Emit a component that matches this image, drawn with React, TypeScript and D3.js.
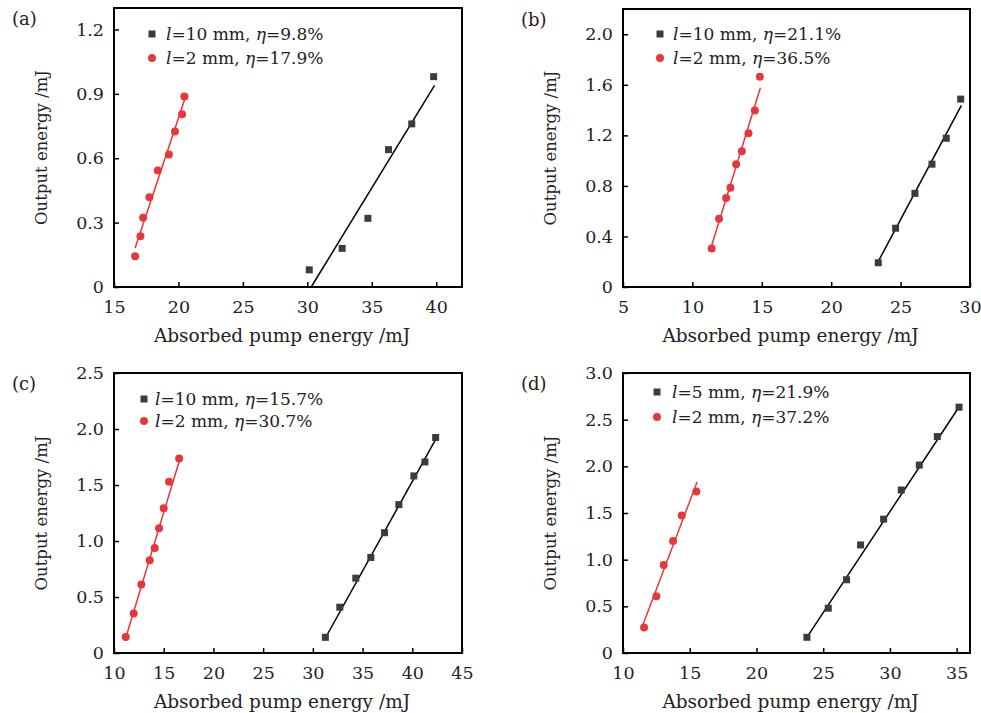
import React, { useEffect, useRef } from 'react';
import * as d3 from 'd3';

// (a)
const aBlackX = [30.15, 32.7, 34.7, 36.3, 38.1, 39.8];
const aBlackY = [0.08, 0.18, 0.32, 0.64, 0.76, 0.98];
const aRedX = [16.64, 17.05, 17.26, 17.75, 18.4, 19.26, 19.73, 20.28, 20.46];
const aRedY = [0.143, 0.236, 0.323, 0.418, 0.543, 0.617, 0.724, 0.805, 0.888];
const aBlackFit = [[30.3, 0], [39.87, 0.939]];
const aRedFit = [[16.64, 0.182], [20.5, 0.877]];
const aXTicks = [15, 20, 25, 30, 35, 40];
const aYTicks = [0, 0.3, 0.6, 0.9, 1.2];
const aLegend = [['10', '9.8'], ['2', '17.9']];

// (b)
const bBlackX = [23.39, 24.64, 26.03, 27.26, 28.29, 29.33];
const bBlackY = [0.192, 0.465, 0.741, 0.972, 1.177, 1.487];
const bRedX = [11.39, 11.92, 12.43, 12.74, 13.15, 13.56, 14.04, 14.5, 14.86];
const bRedY = [0.305, 0.541, 0.704, 0.786, 0.972, 1.075, 1.217, 1.396, 1.664];
const bBlackFit = [[23.39, 0.202], [29.38, 1.438]];
const bRedFit = [[11.35, 0.315], [14.9, 1.577]];
const bXTicks = [5, 10, 15, 20, 25, 30];
const bYTicks = [0, 0.4, 0.8, 1.2, 1.6, 2.0];
const bLegend = [['10', '21.1'], ['2', '36.5']];

// (c)
const cBlackX = [31.26, 32.71, 34.32, 35.83, 37.21, 38.65, 40.16, 41.27, 42.35];
const cBlackY = [0.14, 0.409, 0.668, 0.853, 1.074, 1.325, 1.581, 1.706, 1.924];
const cRedX = [11.18, 11.98, 12.75, 13.59, 14.1, 14.53, 15.0, 15.54, 16.55];
const cRedY = [0.143, 0.353, 0.612, 0.829, 0.937, 1.113, 1.292, 1.53, 1.736];
const cBlackFit = [[31.26, 0.134], [42.38, 1.912]];
const cRedFit = [[11.18, 0.134], [16.62, 1.73]];
const cXTicks = [10, 15, 20, 25, 30, 35, 40, 45];
const cYTicks = [0, 0.5, 1.0, 1.5, 2.0, 2.5];
const cLegend = [['10', '15.7'], ['2', '30.7']];

// (d)
const dBlackX = [23.78, 25.38, 26.75, 27.8, 29.53, 30.85, 32.2, 33.55, 35.18];
const dBlackY = [0.168, 0.48, 0.785, 1.158, 1.434, 1.746, 2.014, 2.319, 2.634];
const dRedX = [11.58, 12.5, 13.05, 13.75, 14.4, 15.5];
const dRedY = [0.272, 0.609, 0.943, 1.201, 1.473, 1.731];
const dBlackFit = [[23.8, 0.172], [35.25, 2.652]];
const dRedFit = [[11.45, 0.287], [15.55, 1.832]];
const dXTicks = [10, 15, 20, 25, 30, 35];
const dYTicks = [0, 0.5, 1.0, 1.5, 2.0, 2.5, 3.0];
const dLegend = [['5', '21.9'], ['2', '37.2']];

const FONT = '"DejaVu Serif", serif';
const RED = '#e8373a';
const GREY = '#3c3c3c';

const panels = [
  { tag: '(a)', box: [114, 462, 8, 287], xDom: [15, 42], yDom: [0, 1.3], xTicks: aXTicks, yTicks: aYTicks,
    bx: aBlackX, by: aBlackY, rx: aRedX, ry: aRedY, bFit: aBlackFit, rFit: aRedFit, legend: aLegend, leg: [38, 52, 26, 50] },
  { tag: '(b)', box: [623, 970, 9, 287], xDom: [5, 30], yDom: [0, 2.2], xTicks: bXTicks, yTicks: bYTicks,
    bx: bBlackX, by: bBlackY, rx: bRedX, ry: bRedY, bFit: bBlackFit, rFit: bRedFit, legend: bLegend, leg: [37, 50, 25, 49] },
  { tag: '(c)', box: [114, 462, 373, 653], xDom: [10, 45], yDom: [0, 2.5], xTicks: cXTicks, yTicks: cYTicks,
    bx: cBlackX, by: cBlackY, rx: cRedX, ry: cRedY, bFit: cBlackFit, rFit: cRedFit, legend: cLegend, leg: [30, 41, 26, 48] },
  { tag: '(d)', box: [623, 970, 373, 653], xDom: [10, 36], yDom: [0, 3.0], xTicks: dXTicks, yTicks: dYTicks,
    bx: dBlackX, by: dBlackY, rx: dRedX, ry: dRedY, bFit: dBlackFit, rFit: dRedFit, legend: dLegend, leg: [34, 49, 19, 44] },
];

const App = () => {
  const svgRef = useRef<SVGSVGElement>(null);

  useEffect(() => {
    const svg = d3.select(svgRef.current);
    svg.selectAll('*').remove();

    panels.forEach((p) => {
      const [left, right, top, bottom] = p.box;
      const x = d3.scaleLinear().domain(p.xDom).range([left, right]);
      const y = d3.scaleLinear().domain(p.yDom).range([bottom, top]);
      const g = svg.append('g').style('font-family', FONT);

      // panel tag
      g.append('text').attr('x', left - 102).attr('y', top + 17)
        .style('font-size', '18px').attr('fill', '#222').text(p.tag);

      // axes, ticks pointing inward
      const fmt = (d: number) => (d === 0 ? '0' : d.toFixed(1));
      const xAxis = g.append('g').attr('transform', `translate(0,${bottom})`)
        .call(d3.axisBottom(x).tickValues(p.xTicks).tickSize(-5).tickPadding(10).tickFormat((d) => String(d)));
      const yAxis = g.append('g').attr('transform', `translate(${left},0)`)
        .call(d3.axisLeft(y).tickValues(p.yTicks).tickSize(-5).tickPadding(10).tickFormat((d) => fmt(+d)));
      [xAxis, yAxis].forEach((a) => {
        a.select('.domain').remove();
        a.selectAll('line').attr('stroke', '#000').attr('stroke-width', 1.5);
        a.selectAll('text').style('font-size', '17.5px').style('font-family', FONT).attr('fill', '#222');
      });
      xAxis.selectAll('text').attr('dy', '0.9em');

      // frame
      g.append('rect').attr('x', left).attr('y', top).attr('width', right - left).attr('height', bottom - top)
        .attr('fill', 'none').attr('stroke', '#000').attr('stroke-width', 2);

      // axis titles
      g.append('text').attr('x', (left + right) / 2 - 6).attr('y', bottom + 55)
        .attr('text-anchor', 'middle').style('font-size', '18.5px').attr('fill', '#222')
        .text('Absorbed pump energy /mJ');
      g.append('text').attr('transform', `translate(${left - 67},${(top + bottom) / 2}) rotate(-90)`)
        .attr('text-anchor', 'middle').style('font-size', '16.5px').attr('fill', '#222')
        .text('Output energy /mJ');

      // fit lines
      const line = d3.line<number[]>().x((d) => x(d[0])).y((d) => y(d[1]));
      g.append('path').attr('d', line(p.bFit)).attr('stroke', '#000').attr('stroke-width', 1.5).attr('fill', 'none');
      g.append('path').attr('d', line(p.rFit)).attr('stroke', RED).attr('stroke-width', 1.5).attr('fill', 'none');

      // points
      g.selectAll('.sq').data(p.bx).enter().append('rect')
        .attr('x', (d) => x(d) - 3.5).attr('y', (d, i) => y(p.by[i]) - 3.5)
        .attr('width', 7).attr('height', 7).attr('fill', GREY);
      g.selectAll('.ci').data(p.rx).enter().append('circle')
        .attr('cx', (d) => x(d)).attr('cy', (d, i) => y(p.ry[i])).attr('r', 4).attr('fill', RED);

      // legend
      const [mx, tx, r1, r2] = p.leg;
      p.legend.forEach((l, i) => {
        const ly = top + (i === 0 ? r1 : r2);
        if (i === 0) {
          g.append('rect').attr('x', left + mx - 3.5).attr('y', ly - 3.5).attr('width', 7).attr('height', 7).attr('fill', GREY);
        } else {
          g.append('circle').attr('cx', left + mx).attr('cy', ly).attr('r', 4).attr('fill', RED);
        }
        const t = g.append('text').attr('x', left + tx).attr('y', ly + 6).style('font-size', '17px').attr('fill', '#222');
        t.append('tspan').style('font-style', 'italic').text('l');
        t.append('tspan').text(`=${l[0]} mm, `);
        t.append('tspan').style('font-style', 'italic').text('η');
        t.append('tspan').text(`=${l[1]}%`);
      });
    });
  }, []);

  return (
    <svg ref={svgRef} width={981} height={713}
      style={{ position: 'absolute', left: 0, top: 0, background: '#fff' }} />
  );
};

export default App;
